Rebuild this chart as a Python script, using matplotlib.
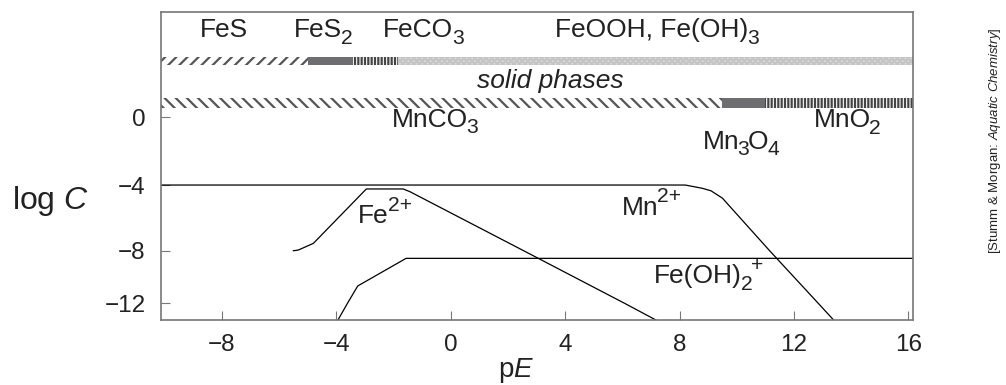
import numpy as np
import matplotlib
matplotlib.use('Agg')
import matplotlib.pyplot as plt
from matplotlib.transforms import offset_copy

plt.rcParams['font.family'] = ['Liberation Sans', 'DejaVu Sans']
plt.rcParams['mathtext.fontset'] = 'custom'
plt.rcParams['mathtext.rm'] = 'Liberation Sans'
plt.rcParams['mathtext.it'] = 'Liberation Sans:italic'
plt.rcParams['mathtext.default'] = 'regular'
plt.rcParams['hatch.linewidth'] = 1.6

# dissolved species (pE, log C)
mn_x = [-10.2, 8.2, 8.8, 9.1, 9.5, 11.15, 12.85, 13.4]
mn_y = [-4.0, -4.0, -4.2, -4.35, -4.8, -8.0, -12.0, -13.3]
fe2_x = [-5.5, -5.33, -4.8, -2.95, -1.66, -1.42, 2.55, 6.08, 7.2]
fe2_y = [-8.0, -7.96, -7.55, -4.24, -4.24, -4.41, -8.0, -12.0, -13.3]
feoh_x = [-3.95, -3.61, -3.25, -1.56, 16.2]
feoh_y = [-13.3, -12.0, -10.68, -8.58, -8.58]

# solid phase boundaries along pE
fe_edges = [-10.2, -5.0, -3.4, -1.83, 16.2]
mn_edges = [-10.2, 9.48, 11.0, 16.2]
fe_band_y, mn_band_y = 3.28, 0.82

xticks = [-8, -4, 0, 4, 8, 12, 16]
yticks = [0, -4, -8, -12]

# labels: (pieces, left pE, baseline log C)
labels = [
    ([('FeS', 'n')], -8.77, 4.67),
    ([('FeS', 'n'), ('2', 'sub')], -5.47, 4.67),
    ([('FeCO', 'n'), ('3', 'sub')], -2.36, 4.67),
    ([('FeOOH, Fe(OH)', 'n'), ('3', 'sub')], 3.65, 4.67),
    ([('MnCO', 'n'), ('3', 'sub')], -2.06, -0.57),
    ([('Mn', 'n'), ('3', 'sub'), ('O', 'n'), ('4', 'sub')], 8.8, -1.87),
    ([('MnO', 'n'), ('2', 'sub')], 12.68, -0.6),
    ([('Fe', 'n'), ('2+', 'sup')], -3.23, -6.33),
    ([('Mn', 'n'), ('2+', 'sup')], 5.98, -5.83),
    ([('Fe(OH)', 'n'), ('2', 'sub'), ('+', 'sup')], 7.12, -10.48),
]

# non-uniform log C axis of the original drawing
vk = [-40, -12, -8, -4, 0, 40]
pk = [-368.2, 0, 52.6, 118.3, 186.3, 869.5]
fwd = lambda v: np.interp(v, vk, pk)
inv = lambda p: np.interp(p, pk, vk)

fig = plt.figure(figsize=(10.06, 3.85), dpi=100)
ax = fig.add_axes([0.16, 0.1688, 0.7472, 0.80])
ax.set_yscale('function', functions=(fwd, inv))
ax.set_xlim(-10.13, 16.15)
ax.set_ylim(-13.27, 6.15)

for xs, ys in [(mn_x, mn_y), (fe2_x, fe2_y), (feoh_x, feoh_y)]:
    ax.plot(xs, ys, color='black', lw=0.9)

# solid phase bands
fe_style = [('white', '#555555', '///'), ('#6e6e70', '#6e6e70', None),
            ('white', '#444444', '|||||'), ('#dcdcdc', '#c4c4c4', 'xxxxxx')]
for i, (fc, ec, h) in enumerate(fe_style):
    ax.barh(fe_band_y, fe_edges[i+1] - fe_edges[i], left=fe_edges[i], height=0.47,
            color=fc, edgecolor=ec, hatch=h, lw=0)
mn_style = [('white', '#555555', '\\\\\\'), ('#6e6e70', '#6e6e70', None),
            ('white', '#444444', '|||||')]
for i, (fc, ec, h) in enumerate(mn_style):
    ax.barh(mn_band_y, mn_edges[i+1] - mn_edges[i], left=mn_edges[i], height=0.59,
            color=fc, edgecolor=ec, hatch=h, lw=0)

renderer = fig.canvas.get_renderer()
size = 19


def chem(parts, x, y):
    dx = 0
    for s, kind in parts:
        fs = size if kind == 'n' else size * 0.8
        dy = {'n': 0, 'sub': -0.25 * size, 'sup': 0.48 * size}[kind]
        tr = offset_copy(ax.transData, fig=fig, x=dx, y=dy, units='points')
        t = ax.text(x, y, s, fontsize=fs, transform=tr, ha='left', va='baseline',
                    color='#222222')
        dx += t.get_window_extent(renderer).width * 72 / fig.dpi - 1.0


for parts, x, y in labels:
    chem(parts, x, y)
ax.text(0.91, 1.68, 'solid phases', fontsize=size, style='italic',
        ha='left', va='baseline', color='#222222')

ax.set_xticks(xticks)
ax.set_yticks(yticks)
ax.tick_params(direction='in', length=6.5, width=0.8, color='#777777',
               labelsize=17.5, labelcolor='#222222')
ax.tick_params(axis='x', pad=10)
ax.tick_params(axis='y', pad=11)
for sp in ax.spines.values():
    sp.set_color('#777777')
    sp.set_linewidth(1.2)

fig.text(50/1006, 1 - 201/385, 'log $\\it{C}$', fontsize=23, ha='center', va='center',
         color='#222222')
fig.text(516/1006, 1 - 377/385, 'p$\\it{E}$', fontsize=20, ha='center', va='baseline',
         color='#222222')
fig.text(995/1006, 1 - 141/385, '[Stumm & Morgan: $\\it{Aquatic\\ Chemistry}$]',
         rotation=90, fontsize=9.5, ha='center', va='center', color='#222222')

fig.savefig('out.png', dpi=100)
